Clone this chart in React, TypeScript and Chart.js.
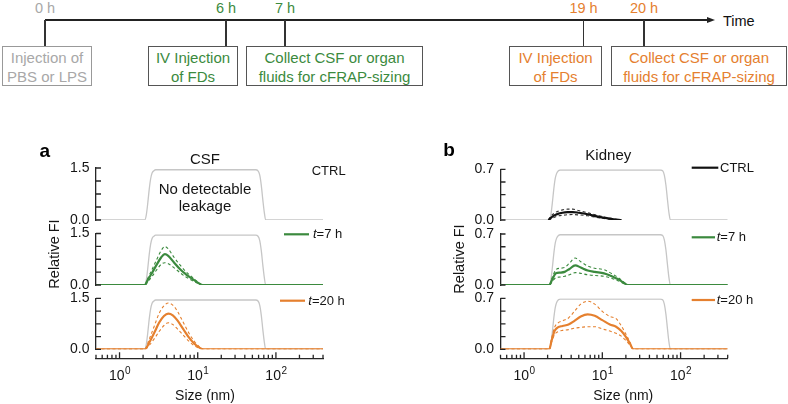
import React, { useEffect, useRef } from 'react';
import { Chart, registerables } from 'chart.js';
Chart.register(...registerables);

const FONT = '"Liberation Sans", Arial, Helvetica, sans-serif';
const GREEN = '#3b8a3e';
const ORANGE = '#e5802f';
const GRAYTEXT = '#a8a8a8';
const PLATEAU = '#c6c6c6';
const AXIS = '#262626';
const BLACK = '#111111';
Chart.defaults.font.family = FONT;

// ---------- timeline text ----------
const hourLabels = ['0 h', '6 h', '7 h', '19 h', '20 h'];
const hourColors = [GRAYTEXT, GREEN, GREEN, ORANGE, ORANGE];
const boxLines = [
  ['Injection of', 'PBS or LPS'],
  ['IV Injection', 'of FDs'],
  ['Collect CSF or organ', 'fluids for cFRAP-sizing'],
  ['IV Injection', 'of FDs'],
  ['Collect CSF or organ', 'fluids for cFRAP-sizing'],
];
const boxColors = [GRAYTEXT, GREEN, GREEN, ORANGE, ORANGE];

// ---------- axis ticks ----------
const xTickValues = [0.5, 0.6, 0.7, 0.8, 0.9, 1, 2, 3, 4, 5, 6, 7, 8, 9, 10, 20, 30, 40, 50, 60, 70, 80, 90, 100, 200, 300, 400];
const xMajorValues = [1, 10, 100];
const xLabelExponents = ['0', '1', '2'];
const csfYTicks = [0, 0.375, 0.75, 1.125, 1.5];
const kidneyYTicks = [0, 0.175, 0.35, 0.525, 0.7];

// ---------- data (size in nm, relative FI) ----------
const plateauSizes = [0.5, 2.1, 2.2, 2.3, 2.4, 2.5, 2.6, 2.75, 2.9, 55, 59, 62, 65, 68, 71, 74, 400];
const csfPlateau = [0, 0, 0.15, 0.5, 0.9, 1.19, 1.35, 1.42, 1.45, 1.45, 1.42, 1.3, 1.0, 0.58, 0.22, 0, 0];
const kidneyPlateau = [0, 0, 0.07, 0.24, 0.43, 0.57, 0.64, 0.68, 0.69, 0.69, 0.68, 0.62, 0.48, 0.28, 0.1, 0, 0];

const csf7Sizes = [0.5, 2.1, 2.3, 2.6, 3.0, 3.4, 3.8, 4.2, 5.0, 6.0, 7.0, 8.5, 10, 11.5, 400];
const csf7Mean = [0, 0, 0.15, 0.35, 0.6, 0.8, 0.9, 0.85, 0.65, 0.45, 0.32, 0.18, 0.07, 0, 0];
const csf7Upper = [0, 0, 0.2, 0.45, 0.75, 1.0, 1.12, 1.05, 0.8, 0.57, 0.4, 0.23, 0.09, 0, 0];
const csf7Lower = [0, 0, 0.1, 0.25, 0.45, 0.6, 0.65, 0.62, 0.5, 0.35, 0.24, 0.13, 0.05, 0, 0];

const csf20Sizes = [0.5, 2.1, 2.4, 2.8, 3.2, 3.7, 4.2, 4.8, 5.5, 6.5, 7.7, 9, 10.5, 11.8, 400];
const csf20Mean = [0, 0, 0.2, 0.5, 0.78, 0.98, 1.05, 1.0, 0.85, 0.6, 0.35, 0.17, 0.05, 0, 0];
const csf20Upper = [0, 0, 0.3, 0.7, 1.05, 1.28, 1.36, 1.3, 1.12, 0.8, 0.48, 0.24, 0.07, 0, 0];
const csf20Lower = [0, 0, 0.12, 0.32, 0.52, 0.7, 0.78, 0.73, 0.6, 0.42, 0.24, 0.11, 0.03, 0, 0];

const kidCtrlSizes = [2.05, 2.2, 2.4, 2.7, 3.1, 3.6, 4.2, 5.0, 6.5, 8.5, 11, 14, 17.5];
const kidCtrlMean = [0, 0.03, 0.06, 0.085, 0.1, 0.108, 0.11, 0.1, 0.08, 0.05, 0.028, 0.01, 0];
const kidCtrlUpper = [0, 0.05, 0.09, 0.12, 0.14, 0.15, 0.15, 0.13, 0.1, 0.065, 0.038, 0.015, 0];
const kidCtrlLower = [0, 0.015, 0.035, 0.055, 0.065, 0.072, 0.075, 0.07, 0.058, 0.035, 0.018, 0.005, 0];

const kid7Sizes = [0.5, 2.1, 2.3, 2.55, 2.9, 3.3, 3.8, 4.5, 5.3, 6.5, 8, 10.5, 12.5, 14.5, 16.5, 18.5, 21, 400];
const kid7Mean = [0, 0, 0.08, 0.16, 0.17, 0.18, 0.22, 0.27, 0.24, 0.2, 0.18, 0.16, 0.13, 0.1, 0.07, 0.035, 0, 0];
const kid7Upper = [0, 0, 0.11, 0.21, 0.23, 0.24, 0.3, 0.37, 0.32, 0.26, 0.23, 0.21, 0.17, 0.13, 0.09, 0.045, 0, 0];
const kid7Lower = [0, 0, 0.05, 0.1, 0.11, 0.12, 0.14, 0.17, 0.16, 0.14, 0.13, 0.12, 0.1, 0.075, 0.05, 0.025, 0, 0];

const kid20Sizes = [0.5, 2.1, 2.25, 2.45, 2.7, 3.1, 3.7, 4.4, 5.3, 6.5, 8, 10, 12.5, 15, 17.5, 20, 22.5, 25, 400];
const kid20Mean = [0, 0, 0.12, 0.25, 0.3, 0.32, 0.34, 0.39, 0.45, 0.48, 0.46, 0.4, 0.34, 0.31, 0.25, 0.17, 0.08, 0, 0];
const kid20Upper = [0, 0, 0.15, 0.3, 0.36, 0.39, 0.43, 0.52, 0.62, 0.66, 0.62, 0.52, 0.45, 0.42, 0.32, 0.21, 0.1, 0, 0];
const kid20Lower = [0, 0, 0.1, 0.2, 0.24, 0.26, 0.27, 0.29, 0.3, 0.31, 0.31, 0.28, 0.25, 0.22, 0.18, 0.12, 0.06, 0, 0];

// ---------- helpers ----------
type Kind = 'solid' | 'dash' | 'gray';
function series(xs: number[], ys: number[], axis: string, color: string, kind: Kind) {
  return {
    data: xs.map((x, i) => ({ x, y: ys[i] })),
    xAxisID: 'x',
    yAxisID: axis,
    borderColor: color,
    borderWidth: kind === 'solid' ? 2.2 : kind === 'dash' ? 1.1 : 1.3,
    borderDash: kind === 'dash' ? [3, 2.5] : [],
    pointRadius: 0,
    fill: false,
    cubicInterpolationMode: 'monotone',
    order: kind === 'gray' ? 10 : kind === 'dash' ? 5 : 1,
  };
}

interface Seg { t: string; italic?: boolean }
interface Txt { segs: Seg[]; x: number; y: number; size: number; bold?: boolean; align?: 'left' | 'center'; base?: CanvasTextBaseline; rotate?: boolean; color?: string }
interface Leg { x1: number; x2: number; y: number; color: string }
interface PanelCfg {
  left: number; top: number; width: number; height: number;
  yWidth: number; padTop: number; padRight: number; xHeight: number;
  weights: number[]; yTicks: number[];
  datasets: any[]; texts: Txt[]; legends: Leg[];
}

function drawText(ctx: CanvasRenderingContext2D, t: Txt, ox: number, oy: number) {
  ctx.save();
  ctx.fillStyle = t.color || '#151515';
  ctx.textBaseline = t.base || 'middle';
  const fontOf = (s: Seg) => `${s.italic ? 'italic ' : ''}${t.bold ? 'bold ' : ''}${t.size}px ${FONT}`;
  let total = 0;
  const widths = t.segs.map((s) => { ctx.font = fontOf(s); const w = ctx.measureText(s.t).width; total += w; return w; });
  ctx.translate(t.x - ox, t.y - oy);
  if (t.rotate) ctx.rotate(-Math.PI / 2);
  let x = t.align === 'left' ? 0 : -total / 2;
  ctx.textAlign = 'left';
  t.segs.forEach((s, i) => { ctx.font = fontOf(s); ctx.fillText(s.t, x, 0); x += widths[i]; });
  ctx.restore();
}

function decor(p: PanelCfg) {
  return {
    id: 'decor',
    afterDraw(chart: any) {
      const ctx: CanvasRenderingContext2D = chart.ctx;
      ctx.save();
      ctx.strokeStyle = AXIS;
      ctx.lineWidth = 1.3;
      // inward y ticks
      for (const id of ['yTop', 'yMid', 'yBot']) {
        const s = chart.scales[id];
        ctx.beginPath();
        for (const t of s.ticks) {
          const y = s.getPixelForValue(t.value);
          ctx.moveTo(s.right, y);
          ctx.lineTo(s.right + 5, y);
        }
        ctx.stroke();
      }
      // inward x ticks
      const xs = chart.scales.x;
      ctx.beginPath();
      for (const t of xs.ticks) {
        const px = xs.getPixelForValue(t.value);
        const len = xMajorValues.includes(t.value) ? 6 : 3.5;
        ctx.moveTo(px, xs.top);
        ctx.lineTo(px, xs.top - len);
      }
      ctx.stroke();
      // x labels 10^n
      ctx.fillStyle = '#151515';
      ctx.textAlign = 'left';
      ctx.textBaseline = 'alphabetic';
      xMajorValues.forEach((v, i) => {
        const px = xs.getPixelForValue(v);
        ctx.font = `14px ${FONT}`;
        const w1 = ctx.measureText('10').width;
        ctx.font = `10px ${FONT}`;
        const w2 = ctx.measureText(xLabelExponents[i]).width;
        const start = px - (w1 + w2) / 2;
        ctx.font = `14px ${FONT}`;
        ctx.fillText('10', start, xs.top + 22);
        ctx.font = `10px ${FONT}`;
        ctx.fillText(xLabelExponents[i], start + w1 + 0.5, xs.top + 16);
      });
      // legend lines
      ctx.lineWidth = 2.2;
      for (const l of p.legends) {
        ctx.strokeStyle = l.color;
        ctx.beginPath();
        ctx.moveTo(l.x1 - p.left, l.y - p.top);
        ctx.lineTo(l.x2 - p.left, l.y - p.top);
        ctx.stroke();
      }
      ctx.restore();
      for (const t of p.texts) drawText(ctx, t, p.left, p.top);
    },
  };
}

function makeChart(canvas: HTMLCanvasElement, p: PanelCfg) {
  const yMax = p.yTicks[p.yTicks.length - 1];
  const yAxis = (weight: number, sw: number) => ({
    type: 'linear', position: 'left', stack: 'panel', stackWeight: sw, weight,
    min: 0, max: yMax,
    grid: { display: false, drawTicks: false },
    border: { display: true, color: AXIS, width: 1.3 },
    afterBuildTicks: (s: any) => { s.ticks = p.yTicks.map((v) => ({ value: v })); },
    afterFit: (s: any) => { s.width = p.yWidth; },
    ticks: {
      autoSkip: false, padding: 6.5, color: '#151515', font: { family: FONT, size: 14 },
      callback: (_v: any, i: number) => (i === 0 ? '0.0' : i === p.yTicks.length - 1 ? yMax.toFixed(1) : ''),
    },
  });
  const spacer = (weight: number, sw: number) => ({
    type: 'linear', position: 'left', stack: 'panel', stackWeight: sw, weight, display: false,
  });
  const scales: any = {
    x: {
      type: 'logarithmic', position: 'bottom', min: 0.5, max: 400,
      grid: { display: false, drawTicks: false },
      border: { display: true, color: AXIS, width: 1.3 },
      ticks: { display: false },
      afterBuildTicks: (s: any) => { s.ticks = xTickValues.map((v) => ({ value: v })); },
      afterFit: (s: any) => { s.height = p.xHeight; },
    },
    yTop: yAxis(6, p.weights[0]),
    g1: spacer(5, p.weights[1]),
    yMid: yAxis(4, p.weights[2]),
    g2: spacer(3, p.weights[3]),
    yBot: yAxis(2, p.weights[4]),
    g3: spacer(1, p.weights[5]),
  };
  return new Chart(canvas, {
    type: 'line',
    data: { datasets: p.datasets },
    options: {
      animation: false,
      responsive: false,
      events: [],
      layout: { padding: { top: p.padTop, right: p.padRight, left: 0, bottom: 0 } },
      plugins: { legend: { display: false }, tooltip: { enabled: false } },
      scales,
    } as any,
    plugins: [decor(p)],
  } as any);
}

const panelA: PanelCfg = {
  left: 0, top: 130, width: 390, height: 274,
  yWidth: 96, padTop: 38, padRight: 67, xHeight: 45.7,
  weights: [52, 13.5, 51.5, 13.3, 51, 9],
  yTicks: csfYTicks,
  datasets: [
    series(plateauSizes, csfPlateau, 'yTop', PLATEAU, 'gray'),
    series(plateauSizes, csfPlateau, 'yMid', PLATEAU, 'gray'),
    series(csf7Sizes, csf7Upper, 'yMid', GREEN, 'dash'),
    series(csf7Sizes, csf7Lower, 'yMid', GREEN, 'dash'),
    series(csf7Sizes, csf7Mean, 'yMid', GREEN, 'solid'),
    series(plateauSizes, csfPlateau, 'yBot', PLATEAU, 'gray'),
    series(csf20Sizes, csf20Upper, 'yBot', ORANGE, 'dash'),
    series(csf20Sizes, csf20Lower, 'yBot', ORANGE, 'dash'),
    series(csf20Sizes, csf20Mean, 'yBot', ORANGE, 'solid'),
  ],
  texts: [
    { segs: [{ t: 'a' }], x: 44.7, y: 151.7, size: 19, bold: true, color: '#000' },
    { segs: [{ t: 'CSF' }], x: 205, y: 163.5, size: 15, base: 'alphabetic' },
    { segs: [{ t: 'No detectable' }], x: 205, y: 193.5, size: 15, base: 'alphabetic' },
    { segs: [{ t: 'leakage' }], x: 205, y: 211, size: 15, base: 'alphabetic' },
    { segs: [{ t: 'CTRL' }], x: 311.7, y: 171, size: 13, align: 'left' },
    { segs: [{ t: 't', italic: true }, { t: '=7 h' }], x: 313, y: 234.8, size: 13, align: 'left' },
    { segs: [{ t: 't', italic: true }, { t: '=20 h' }], x: 308.3, y: 301.2, size: 13, align: 'left' },
    { segs: [{ t: 'Relative FI' }], x: 55, y: 254, size: 14.5, rotate: true },
    { segs: [{ t: 'Size (nm)' }], x: 205, y: 395.8, size: 14 },
  ],
  legends: [
    { x1: 284, x2: 309, y: 234.3, color: GREEN },
    { x1: 280, x2: 305, y: 300.7, color: ORANGE },
  ],
};

const panelB: PanelCfg = {
  left: 390, top: 130, width: 398, height: 274,
  yWidth: 110.5, padTop: 39.3, padRight: 60.3, xHeight: 45.7,
  weights: [50.7, 14, 51, 13.3, 51, 9],
  yTicks: kidneyYTicks,
  datasets: [
    series(plateauSizes, kidneyPlateau, 'yTop', PLATEAU, 'gray'),
    series(kidCtrlSizes, kidCtrlUpper, 'yTop', '#333', 'dash'),
    series(kidCtrlSizes, kidCtrlLower, 'yTop', '#333', 'dash'),
    series(kidCtrlSizes, kidCtrlMean, 'yTop', BLACK, 'solid'),
    series(plateauSizes, kidneyPlateau, 'yMid', PLATEAU, 'gray'),
    series(kid7Sizes, kid7Upper, 'yMid', GREEN, 'dash'),
    series(kid7Sizes, kid7Lower, 'yMid', GREEN, 'dash'),
    series(kid7Sizes, kid7Mean, 'yMid', GREEN, 'solid'),
    series(plateauSizes, kidneyPlateau, 'yBot', PLATEAU, 'gray'),
    series(kid20Sizes, kid20Upper, 'yBot', ORANGE, 'dash'),
    series(kid20Sizes, kid20Lower, 'yBot', ORANGE, 'dash'),
    series(kid20Sizes, kid20Mean, 'yBot', ORANGE, 'solid'),
  ],
  texts: [
    { segs: [{ t: 'b' }], x: 449, y: 151, size: 19, bold: true, color: '#000' },
    { segs: [{ t: 'Kidney' }], x: 608.3, y: 160, size: 15, base: 'alphabetic' },
    { segs: [{ t: 'CTRL' }], x: 720, y: 168.2, size: 13, align: 'left' },
    { segs: [{ t: 't', italic: true }, { t: '=7 h' }], x: 716.7, y: 237.8, size: 13, align: 'left' },
    { segs: [{ t: 't', italic: true }, { t: '=20 h' }], x: 716.7, y: 300.6, size: 13, align: 'left' },
    { segs: [{ t: 'Relative FI' }], x: 460, y: 259, size: 14.5, rotate: true },
    { segs: [{ t: 'Size (nm)' }], x: 623.3, y: 395.8, size: 14 },
  ],
  legends: [
    { x1: 691.7, x2: 718.3, y: 167.7, color: BLACK },
    { x1: 691.7, x2: 715, y: 237.3, color: GREEN },
    { x1: 691.7, x2: 715, y: 300, color: ORANGE },
  ],
};

// ---------- timeline layout ----------
const TL = '#222';
const hourX = [45, 226, 285, 583.5, 644];
const boxLayout = [
  { left: 2, width: 90, border: '#999' },
  { left: 148, width: 90, border: '#555' },
  { left: 246, width: 177, border: '#555' },
  { left: 509, width: 93, border: '#555' },
  { left: 611, width: 176, border: '#555' },
];

function Timeline() {
  return (
    <>
      <div style={{ position: 'absolute', left: 45, top: 19.4, width: 663, height: 1.3, background: TL }} />
      <div style={{ position: 'absolute', left: 706.5, top: 16.5, width: 0, height: 0, borderTop: '3.6px solid transparent', borderBottom: '3.6px solid transparent', borderLeft: `8px solid ${TL}` }} />
      <div style={{ position: 'absolute', left: 723, top: 20.5, transform: 'translateY(-50%)', fontSize: 14.5, lineHeight: 1, color: '#111', whiteSpace: 'nowrap' }}>Time</div>
      {hourLabels.map((h, i) => (
        <React.Fragment key={h}>
          <div style={{ position: 'absolute', left: hourX[i], top: 8.3, transform: 'translate(-50%,-50%)', fontSize: 14.5, lineHeight: 1, color: hourColors[i], whiteSpace: 'nowrap' }}>{h}</div>
          <div style={{ position: 'absolute', left: hourX[i] - 0.65, top: 20, width: 1.3, height: 26, background: '#333' }} />
        </React.Fragment>
      ))}
      {boxLines.map((lines, i) => (
        <div key={i} style={{ position: 'absolute', left: boxLayout[i].left, top: 46, width: boxLayout[i].width, height: 40, boxSizing: 'border-box', border: `1px solid ${boxLayout[i].border}`, color: boxColors[i], fontSize: 15, lineHeight: '18.4px', textAlign: 'center', paddingTop: 2.3, whiteSpace: 'nowrap' }}>
          {lines.map((l) => <div key={l}>{l}</div>)}
        </div>
      ))}
    </>
  );
}

export default function App() {
  const refA = useRef<HTMLCanvasElement>(null);
  const refB = useRef<HTMLCanvasElement>(null);
  useEffect(() => {
    const charts = [makeChart(refA.current!, panelA), makeChart(refB.current!, panelB)];
    return () => charts.forEach((c) => c.destroy());
  }, []);
  return (
    <div style={{ position: 'fixed', left: 0, top: 0, width: 788, height: 404, background: '#fff', fontFamily: FONT, overflow: 'hidden' }}>
      <Timeline />
      <canvas ref={refA} width={panelA.width} height={panelA.height} style={{ position: 'absolute', left: panelA.left, top: panelA.top, width: panelA.width, height: panelA.height }} />
      <canvas ref={refB} width={panelB.width} height={panelB.height} style={{ position: 'absolute', left: panelB.left, top: panelB.top, width: panelB.width, height: panelB.height }} />
    </div>
  );
}
